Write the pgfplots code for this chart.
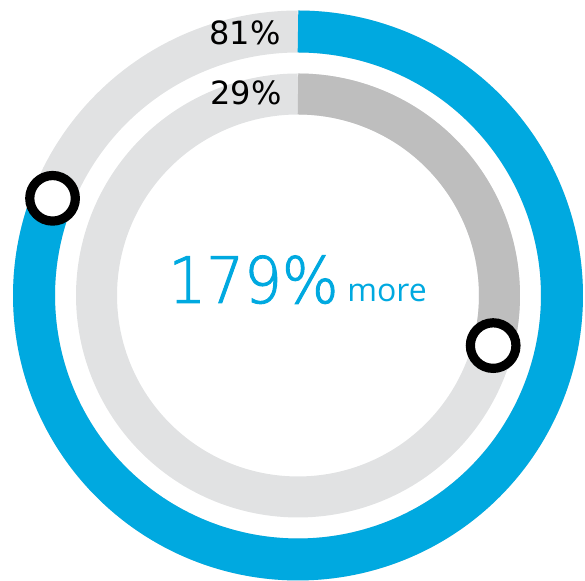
\documentclass[border=0pt]{standalone}
\usepackage{pgfplots}
\pgfplotsset{compat=1.18}
\usepackage{fontspec}
\setmainfont{DejaVu Sans}
\newfontfamily\lightfont[FakeStretch=0.93,FakeBold=1.6]{DejaVu Sans ExtraLight}
\newfontfamily\morefont{Open Sans}
\definecolor{ringblue}{HTML}{00A9E0}
\definecolor{ringlight}{HTML}{E1E2E3}
\definecolor{ringdark}{HTML}{BEBEBE}

% outer ring 81 %, inner ring 29 %; rings are drawn in px units, centre (0,0)
\begin{document}
\begin{tikzpicture}
\begin{axis}[
  scale only axis, width=292.5pt, height=290.5pt,
  xmin=-298, xmax=287, ymin=-285.5, ymax=295.5,
  axis line style={draw=none}, ticks=none, clip=false,
  every axis plot/.append style={line cap=butt},
]
% outer ring: background, then 81 %
\addplot[ringlight, line width=21pt, domain=0:100, samples=240, data cs=polar]
  ({90-3.6*x}, 264);
\addplot[ringblue, line width=21pt, domain=0:81, samples=200, data cs=polar]
  ({90-3.6*x}, 264);
% inner ring: background, then 29 %
\addplot[ringlight, line width=20.5pt, domain=0:100, samples=240, data cs=polar]
  ({90-3.6*x}, 201.5);
\addplot[ringdark, line width=20.5pt, domain=0:29, samples=80, data cs=polar]
  ({90-3.6*x}, 201.5);
% end markers
\addplot[black, line width=4.6pt, only marks, mark=*, mark size=11.4pt,
  mark options={fill=white}, samples at={81}, data cs=polar]
  ({90-3.6*x}, 264);
\addplot[black, line width=4.6pt, only marks, mark=*, mark size=11.4pt,
  mark options={fill=white}, samples at={29}, data cs=polar]
  ({90-3.6*x}, 201.5);
% labels
\node[anchor=base east, inner sep=0pt, font=\fontsize{16}{16}\selectfont]
  at (axis cs:-17,250.5) {81\%};
\node[anchor=base east, inner sep=0pt, font=\fontsize{16}{16}\selectfont]
  at (axis cs:-16,190.5) {29\%};
\node[anchor=base west, inner sep=0pt, text=ringblue,
  font=\lightfont\fontsize{32}{32}\selectfont]
  at (axis cs:-130,-7.5) {179\%};
\node[anchor=base west, inner sep=0pt, text=ringblue,
  font=\morefont\fontsize{16}{16}\selectfont]
  at (axis cs:49,-6.5) {more};
\end{axis}
\end{tikzpicture}
\end{document}
